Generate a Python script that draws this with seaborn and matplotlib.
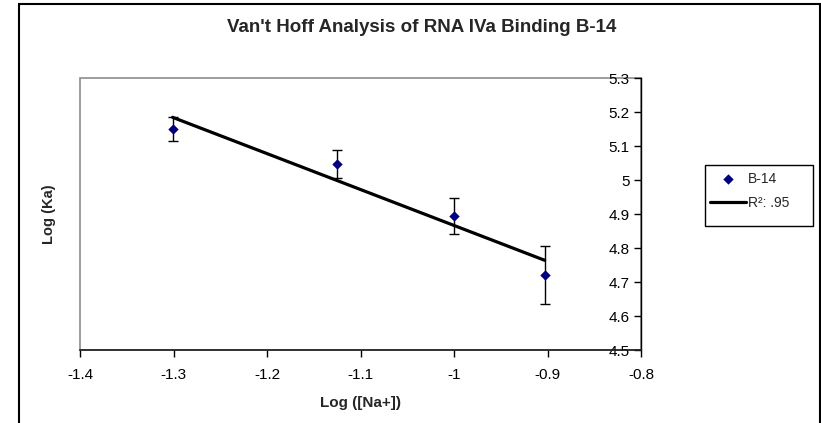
"""
Van't Hoff 分析图（RNA IVa 结合 B-14）的复刻
"""
import numpy as np
import matplotlib
matplotlib.use("Agg")
import matplotlib.pyplot as plt
from matplotlib.patches import Rectangle
from matplotlib.ticker import FuncFormatter
import seaborn as sns

# --- 数据 ---
log_na = [-1.301, -1.125, -1.0, -0.903]
log_ka = [5.150, 5.048, 4.894, 4.721]
ka_err = [0.035, 0.041, 0.052, 0.086]
series_name = "B-14"
fit_label = "R²: .95"

sns.set_theme(style="white")
plt.rcParams['font.family'] = ['Liberation Sans', 'DejaVu Sans']

fig = plt.figure(figsize=(8.21, 4.23), dpi=100)
ax = fig.add_axes([80 / 821, 1 - 350 / 423, 561 / 821, 272 / 423])

# 误差棒 + 散点 + 拟合线
ax.errorbar(log_na, log_ka, yerr=ka_err, fmt='none', ecolor='black',
            elinewidth=1, capsize=3.6, capthick=1, zorder=2)
sns.scatterplot(x=log_na, y=log_ka, ax=ax, marker='D', s=28, color='#000080',
                edgecolor='#000080', linewidth=0, label=series_name, zorder=3)
sns.regplot(x=np.array(log_na), y=np.array(log_ka), ax=ax, scatter=False, ci=None,
            color='black', line_kws={'lw': 2.3, 'zorder': 4})
ax.lines[-1].set_label(fit_label)

ax.set_xlim(-1.4, -0.8)
ax.set_ylim(4.5, 5.3)
ax.set_xticks(np.arange(-1.4, -0.79, 0.1))
ax.set_yticks(np.arange(4.5, 5.31, 0.1))
fmt = FuncFormatter(lambda v, p: f"{round(v, 2):g}")
ax.xaxis.set_major_formatter(fmt)
ax.yaxis.set_major_formatter(fmt)

# 坐标轴样式：y 轴在 x=-0.8 处
ax.spines['left'].set_position(('data', -0.8))
ax.spines['right'].set_visible(False)
ax.spines['top'].set_visible(False)
ax.spines['left'].set_color('black')
ax.spines['bottom'].set_color('#202020')
ax.spines['left'].set_linewidth(1.0)
ax.spines['bottom'].set_linewidth(1.2)
ax.add_patch(Rectangle((0, 0), 1, 1, transform=ax.transAxes, fill=False,
                       edgecolor='#8c8c8c', lw=1.2, zorder=0, clip_on=False))
ax.tick_params(axis='both', direction='out', length=5, width=1, color='black',
               labelsize=11, labelcolor='black', left=True, bottom=True)
ax.tick_params(axis='x', pad=8)
ax.tick_params(axis='y', pad=3)

fig.text(422 / 821, 1 - 28 / 423, "Van't Hoff Analysis of RNA IVa Binding B-14",
         fontsize=13.5, fontweight='bold', ha='center', va='center')

ax.set_xlabel("Log ([Na+])", fontsize=11, fontweight='bold')
ax.xaxis.set_label_coords(0.5, -0.17)
ax.set_ylabel("Log (Ka)", fontsize=10.5, fontweight='bold')
ax.yaxis.set_label_coords(-0.043, 0.5)

leg = ax.legend(loc='upper left', bbox_to_anchor=(710 / 821, 1 - 172 / 423),
                bbox_transform=fig.transFigure, fontsize=10, frameon=False,
                handlelength=2.6, borderpad=0, labelspacing=0.73,
                handletextpad=0.15, borderaxespad=0)
# 图例外框
fig.add_artist(Rectangle((705 / 821, 1 - 226 / 423), 108 / 821, 61 / 423,
                         transform=fig.transFigure, fill=False,
                         edgecolor='black', lw=1.0))

# 外框
fig.add_artist(Rectangle((19 / 821, -0.1), (820 - 19) / 821, 1.1 - 4 / 423,
                         transform=fig.transFigure, fill=False,
                         edgecolor='black', lw=1.5))

fig.savefig("out.png", dpi=100)
plt.close(fig)
